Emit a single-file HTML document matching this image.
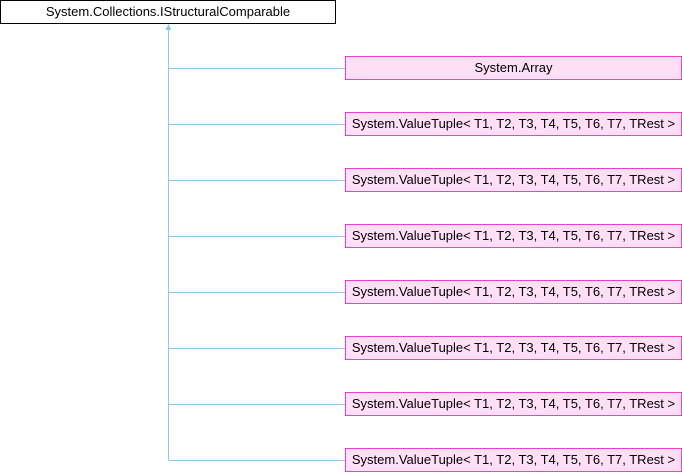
<!DOCTYPE html>
<html><head><meta charset="utf-8"><style>
html,body{margin:0;padding:0;background:#fff;width:682px;height:472px;overflow:hidden;position:relative;font-family:"Liberation Sans",sans-serif;font-size:13px;}
.b{position:absolute;box-sizing:border-box;height:24px;line-height:22px;text-align:center;color:#000;white-space:nowrap;}
.top{left:0;top:0;width:336px;border:1px solid #000;background:#fff;}
.c{left:345px;width:337px;border:1px solid #f23cd8;background:#fedff6;}
svg{position:absolute;left:0;top:0;}
</style></head><body>
<svg width="682" height="472">
<g stroke="#8ccbec" stroke-width="1" fill="none">
<line x1="168.5" y1="30" x2="168.5" y2="460"/>
<line x1="168.5" y1="68.5" x2="345" y2="68.5"/>
<line x1="168.5" y1="124.5" x2="345" y2="124.5"/>
<line x1="168.5" y1="180.5" x2="345" y2="180.5"/>
<line x1="168.5" y1="236.5" x2="345" y2="236.5"/>
<line x1="168.5" y1="292.5" x2="345" y2="292.5"/>
<line x1="168.5" y1="348.5" x2="345" y2="348.5"/>
<line x1="168.5" y1="404.5" x2="345" y2="404.5"/>
<line x1="168.5" y1="460.5" x2="345" y2="460.5"/>
</g>
<polygon points="168.5,24 165.5,30 171.5,30" fill="#8ccbec"/>
</svg>
<div class="b top">System.Collections.IStructuralComparable</div>
<div class="b c" style="top:56px">System.Array</div>
<div class="b c" style="top:112px">System.ValueTuple&lt; T1, T2, T3, T4, T5, T6, T7, TRest &gt;</div>
<div class="b c" style="top:168px">System.ValueTuple&lt; T1, T2, T3, T4, T5, T6, T7, TRest &gt;</div>
<div class="b c" style="top:224px">System.ValueTuple&lt; T1, T2, T3, T4, T5, T6, T7, TRest &gt;</div>
<div class="b c" style="top:280px">System.ValueTuple&lt; T1, T2, T3, T4, T5, T6, T7, TRest &gt;</div>
<div class="b c" style="top:336px">System.ValueTuple&lt; T1, T2, T3, T4, T5, T6, T7, TRest &gt;</div>
<div class="b c" style="top:392px">System.ValueTuple&lt; T1, T2, T3, T4, T5, T6, T7, TRest &gt;</div>
<div class="b c" style="top:448px">System.ValueTuple&lt; T1, T2, T3, T4, T5, T6, T7, TRest &gt;</div>
</body></html>
